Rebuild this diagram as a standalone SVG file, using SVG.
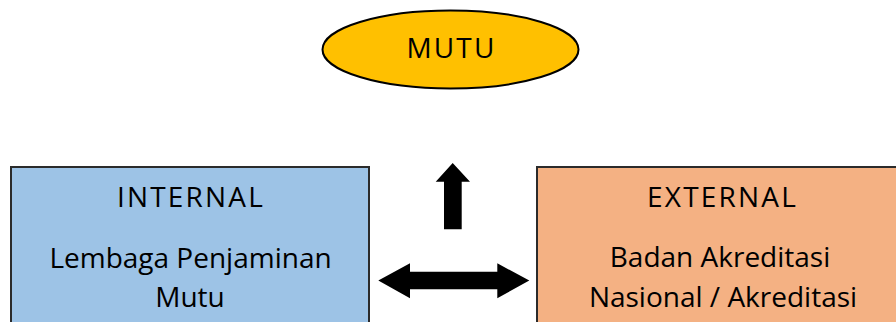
<svg xmlns="http://www.w3.org/2000/svg" width="896" height="322" viewBox="0 0 896 322">
<style>
text{font-family:"Open Sans","Lato","DejaVu Sans",sans-serif;font-size:28px;fill:#000;text-anchor:middle}
.cap{letter-spacing:2.2px}
.box{stroke:#2b2b2b;stroke-width:2}
.arrow{fill:#000;stroke:none}
</style>
<rect width="896" height="322" fill="#fff"/>
<g id="mutu">
<ellipse cx="450.5" cy="49.5" rx="128" ry="39" fill="#FFC000" stroke="#000" stroke-width="2"/>
<text class="cap" x="451.5" y="58">MUTU</text>
</g>
<g id="internal">
<rect class="box" x="11" y="167" width="358" height="170" fill="#9DC3E6"/>
<text class="cap" x="191" y="207">INTERNAL</text>
<text x="190.5" y="268">Lembaga Penjaminan</text>
<text x="190" y="307">Mutu</text>
</g>
<g id="external">
<rect class="box" x="537" y="167" width="380" height="170" fill="#F4B183"/>
<text class="cap" x="722.5" y="207">EXTERNAL</text>
<text x="720" y="267">Badan Akreditasi</text>
<text x="723" y="307">Nasional / Akreditasi</text>
</g>
<g id="connectors">
<polygon class="arrow" points="452.7,163 470,181.7 461.7,181.7 461.7,229.3 444,229.3 444,181.7 435.7,181.7"/>
<polygon class="arrow" points="378.3,280.5 410,263.3 410,271.7 497.3,271.7 497.3,263.3 529.3,280.5 497.3,298.3 497.3,289.3 410,289.3 410,298.3"/>
</g>
</svg>
